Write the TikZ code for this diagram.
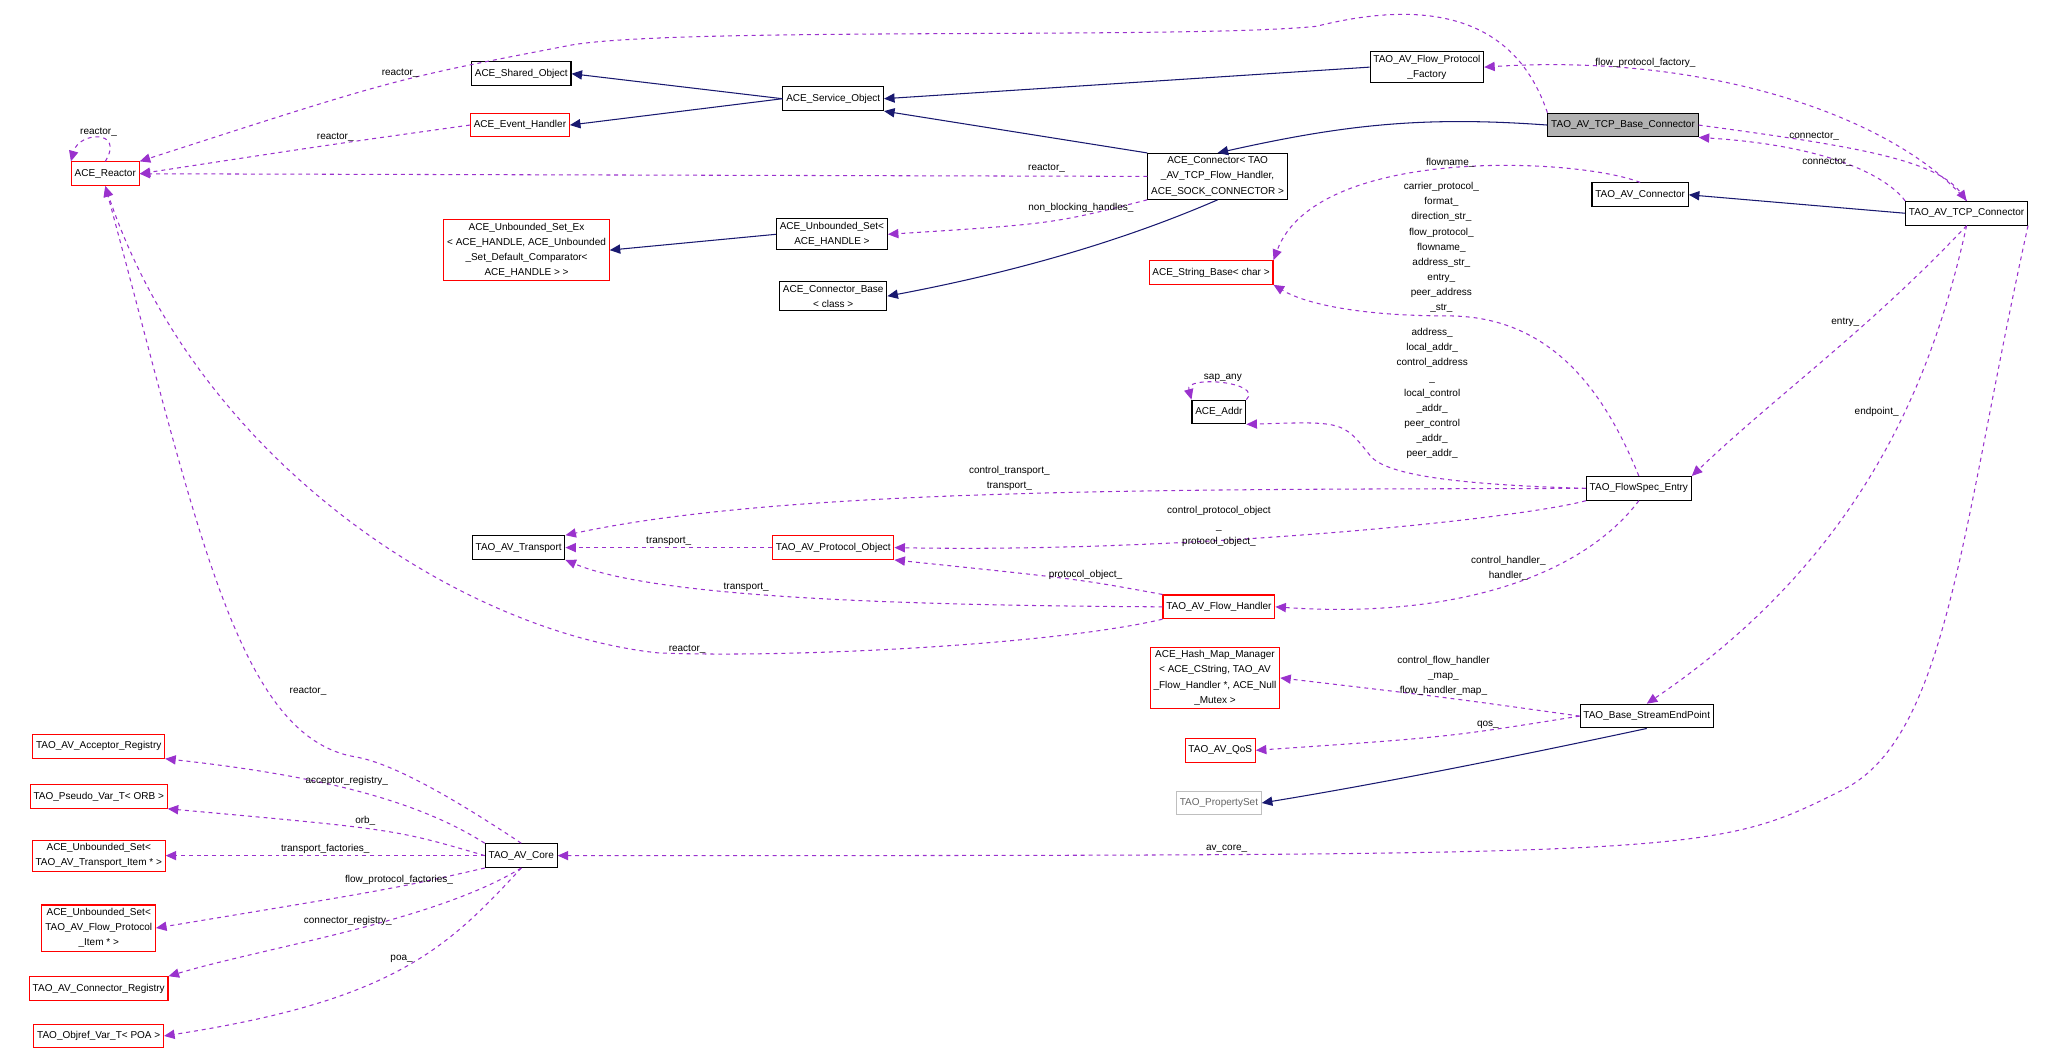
\documentclass[tikz,border=0pt]{standalone}
\usepackage{fontspec}
\setmainfont{Liberation Sans}
\usetikzlibrary{arrows.meta,positioning}
\definecolor{usecol}{HTML}{9A32CD}
\definecolor{inhcol}{HTML}{191970}

\begin{document}
\begin{tikzpicture}[x=1pt,y=-1pt,font=\fontsize{7.6}{11.5}\selectfont]
		\tikzset{cls/.style={draw=black,thick,fill=white,inner sep=2.5pt,minimum height=18pt,align=center}}
		\tikzset{clsred/.style={cls,draw=red}}
		\tikzset{clsgray/.style={cls,draw=black!25,text=black!60}}
		\tikzset{inh/.style={draw=inhcol,thick,-{Triangle[length=8pt,width=7pt]}}}
		\tikzset{use/.style={draw=usecol,thick,dashed,-{Triangle[length=8pt,width=7pt]},color=usecol}}
		\tikzset{lbl/.style={text=black,align=center,inner sep=0pt}}

		\useasboundingbox (0,0) rectangle (1568,808);

		% classes
		\node [clsred] (reactor) at (80,132) {ACE\_Reactor};
		\node [cls] (shared) at (396,56) {ACE\_Shared\_Object};
		\node [clsred] (evh) at (395,95) {ACE\_Event\_Handler};
		\node [cls] (svc) at (633,75) {ACE\_Service\_Object};
		\node [cls] (fpf) at (1084,51) {TAO\_AV\_Flow\_Protocol\\\_Factory};
		\node [cls,fill=black!30] (base) at (1233,95) {TAO\_AV\_TCP\_Base\_Connector};
		\node [cls] (conn) at (925,134) {ACE\_Connector< TAO\\\_AV\_TCP\_Flow\_Handler,\\ ACE\_SOCK\_CONNECTOR >};
		\node [cls] (avconn) at (1246,148) {TAO\_AV\_Connector};
		\node [cls] (tcpconn) at (1494,162) {TAO\_AV\_TCP\_Connector};
		\node [clsred] (strbase) at (920,207) {ACE\_String\_Base< char >};
		\node [clsred] (usetex) at (400,190) {ACE\_Unbounded\_Set\_Ex\\< ACE\_HANDLE, ACE\_Unbounded\\\_Set\_Default\_Comparator<\\ ACE\_HANDLE > >};
		\node [cls] (uset) at (632,178) {ACE\_Unbounded\_Set<\\ACE\_HANDLE >};
		\node [cls] (connbase) at (633,225) {ACE\_Connector\_Base\\< class >};
		\node [cls] (addr) at (926,313) {ACE\_Addr};
		\node [cls] (entry) at (1245,371) {TAO\_FlowSpec\_Entry};
		\node [cls] (transport) at (394,416) {TAO\_AV\_Transport};
		\node [clsred] (protoobj) at (633,416) {TAO\_AV\_Protocol\_Object};
		\node [clsred] (flowh) at (926,461) {TAO\_AV\_Flow\_Handler};
		\node [clsred] (hashmap) at (923,515) {ACE\_Hash\_Map\_Manager\\< ACE\_CString, TAO\_AV\\\_Flow\_Handler *, ACE\_Null\\\_Mutex >};
		\node [cls] (stream) at (1251,544) {TAO\_Base\_StreamEndPoint};
		\node [clsred] (qos) at (927,570) {TAO\_AV\_QoS};
		\node [clsgray] (propset) at (926,610) {TAO\_PropertySet};
		\node [cls] (core) at (396,650) {TAO\_AV\_Core};
		\node [clsred] (accreg) at (75,567) {TAO\_AV\_Acceptor\_Registry};
		\node [clsred] (orbvar) at (75,605) {TAO\_Pseudo\_Var\_T< ORB >};
		\node [clsred] (trset) at (75,650) {ACE\_Unbounded\_Set<\\ TAO\_AV\_Transport\_Item * >};
		\node [clsred] (fpset) at (75,705) {ACE\_Unbounded\_Set<\\ TAO\_AV\_Flow\_Protocol\\\_Item * >};
		\node [clsred] (connreg) at (75,751) {TAO\_AV\_Connector\_Registry};
		\node [clsred] (poavar) at (75,787) {TAO\_Objref\_Var\_T< POA >};

		% inheritance
		\draw [inh] (svc.west) -- (shared.east);
		\draw [inh] (svc.west) -- (evh.east);
		\draw [inh] (fpf.west) -- (svc.east);
		\draw [inh] (conn.north west) -- (svc.south east);
		\draw [inh] (base.west) .. controls (1080,88) and (1020,95) .. (conn.north);
		\draw [inh] (tcpconn.west) -- (avconn.east);
		\draw [inh] (uset.west) -- (usetex.east);
		\draw [inh] (conn.south) .. controls (860,180) and (780,205) .. (connbase.east);
		\draw [inh] (stream.south) .. controls (1150,575) and (1050,595) .. (propset.east);

		% members
		\draw [use] (base.north west) .. controls (1160,40) and (1120,-10) .. (1000,20)
			.. controls (900,30) and (500,20) .. (430,35) .. controls (300,60) .. (reactor.north east)
			node [lbl,pos=0.45,above=2pt] {reactor\_};
		\draw [use] (reactor.north) .. controls (95,98) and (60,100) .. (reactor.north west)
			node [lbl,pos=0.5,above=1pt] {reactor\_};
		\draw [use] (evh.west) .. controls (250,110) .. (reactor.east) node [lbl,pos=0.45,above=2pt] {reactor\_};
		\draw [use] (conn.west) -- (reactor.east) node [lbl,pos=0.1,above=2pt] {reactor\_};
		\draw [use] (conn.south west) .. controls (800,170) .. (uset.east) node [lbl,pos=0.3,above=2pt] {non\_blocking\_handles\_};
		\draw [use] (tcpconn.north) .. controls (1440,90) and (1300,40) .. (fpf.east)
			node [lbl,pos=0.75,above=2pt] {flow\_protocol\_factory\_};
		\draw [use] (tcpconn.north west) .. controls (1430,130) and (1380,110) .. (base.south east)
			node [lbl,pos=0.55,below=0pt] {connector\_};
		\draw [use] (base.east) .. controls (1400,110) and (1470,120) .. (tcpconn.north)
			node [lbl,pos=0.3,above=1pt] {connector\_};
		\draw [use] (avconn.north) .. controls (1200,120) and (1000,110) .. (strbase.north east)
			node [lbl,pos=0.5,above=1pt] {flowname\_};
		\draw [use] (entry.north) .. controls (1220,300) and (1180,240) .. (1100,240)
			.. controls (1030,240) and (990,230) .. (strbase.south east)
			node [lbl,pos=0,above=2pt,xshift=-5pt] {carrier\_protocol\_\\format\_\\direction\_str\_\\flow\_protocol\_\\flowname\_\\address\_str\_\\entry\_\\peer\_address\\\_str\_};
		\draw [use] (entry.west) .. controls (1100,368) and (1050,360) .. (1040,345) .. controls (1020,320) .. (addr.south east);
		\node [lbl] (addrlbl) at (1088,299) {address\_\\local\_addr\_\\control\_address\\\_\\local\_control\\\_addr\_\\peer\_control\\\_addr\_\\peer\_addr\_};
		\draw [use] (addr.north east) .. controls (960,290) and (900,285) .. (addr.north west)
			node [lbl,pos=0.5,above=1pt] {sap\_any};
		\draw [use] (entry.west) .. controls (900,372) and (600,370) .. (transport.north east)
			node [lbl,pos=0.5,above=2pt] {control\_transport\_\\transport\_};
		\draw [use] (entry.south west) .. controls (1150,395) and (900,420) .. (protoobj.east);
		\node [lbl] (polbl) at (926,400) {control\_protocol\_object\\\_\\protocol\_object\_};
		\draw [use] (entry.south) .. controls (1200,440) and (1100,470) .. (flowh.east)
			node [lbl,pos=0.35,left=4pt] {control\_handler\_\\handler\_};
		\draw [use] (tcpconn.south) .. controls (1420,250) and (1350,300) .. (entry.north east)
			node [lbl,pos=0.35,left=5pt] {entry\_};
		\draw [use] (tcpconn.south) .. controls (1470,280) and (1420,420) .. (stream.north)
			node [lbl,pos=0.4,left=4pt] {endpoint\_};
		\draw [use] (protoobj.west) -- (transport.east) node [lbl,pos=0.5,above=1pt] {transport\_};
		\draw [use] (flowh.north west) .. controls (820,440) .. (protoobj.south east)
			node [lbl,pos=0.4,above=1pt] {protocol\_object\_};
		\draw [use] (flowh.west) .. controls (700,460) and (500,455) .. (transport.south east)
			node [lbl,pos=0.6,above=1pt] {transport\_};
		\draw [use] (flowh.south west) .. controls (800,490) and (600,500) .. (500,496)
			.. controls (350,480) and (150,350) .. (reactor.south)
			node [lbl,pos=0.18,above=4pt] {};
		\node [lbl] (rlbl) at (522,493) {reactor\_};
		\draw [use] (core.north) .. controls (350,610) and (300,580) .. (270,575)
			.. controls (180,560) and (150,400) .. (reactor.south);
		\node [lbl] (rlbl2) at (234,525) {reactor\_};
		\draw [use] (stream.west) .. controls (1100,530) .. (hashmap.east)
			node [lbl,pos=0.5,above=1pt] {control\_flow\_handler\\\_map\_\\flow\_handler\_map\_};
		\draw [use] (stream.west) .. controls (1100,560) .. (qos.east) node [lbl,pos=0.3,above=1pt] {qos\_};
		\draw [use] (tcpconn.south east) .. controls (1490,400) and (1480,560) .. (1400,600)
			.. controls (1300,650) .. (core.east)
			node [lbl,pos=0.75,above=1pt] {av\_core\_};
		\draw [use] (core.north west) .. controls (320,610) and (250,590) .. (accreg.south east)
			node [lbl,pos=0.55,above=2pt] {acceptor\_registry\_};
		\draw [use] (core.west) .. controls (300,630) .. (orbvar.south east) node [lbl,pos=0.55,above=2pt] {orb\_};
		\draw [use] (core.west) -- (trset.east) node [lbl,pos=0.5,above=1pt] {transport\_factories\_};
		\draw [use] (core.south west) .. controls (300,675) .. (fpset.east) node [lbl,pos=0.4,above=1pt] {flow\_protocol\_factories\_};
		\draw [use] (core.south) .. controls (330,700) and (200,720) .. (connreg.north east)
			node [lbl,pos=0.5,above=4pt] {connector\_registry\_};
		\draw [use] (core.south) .. controls (340,720) and (300,760) .. (poavar.east)
			node [lbl,pos=0.5,left=30pt,above=4pt] {poa\_};

	\end{tikzpicture}
\end{document}
